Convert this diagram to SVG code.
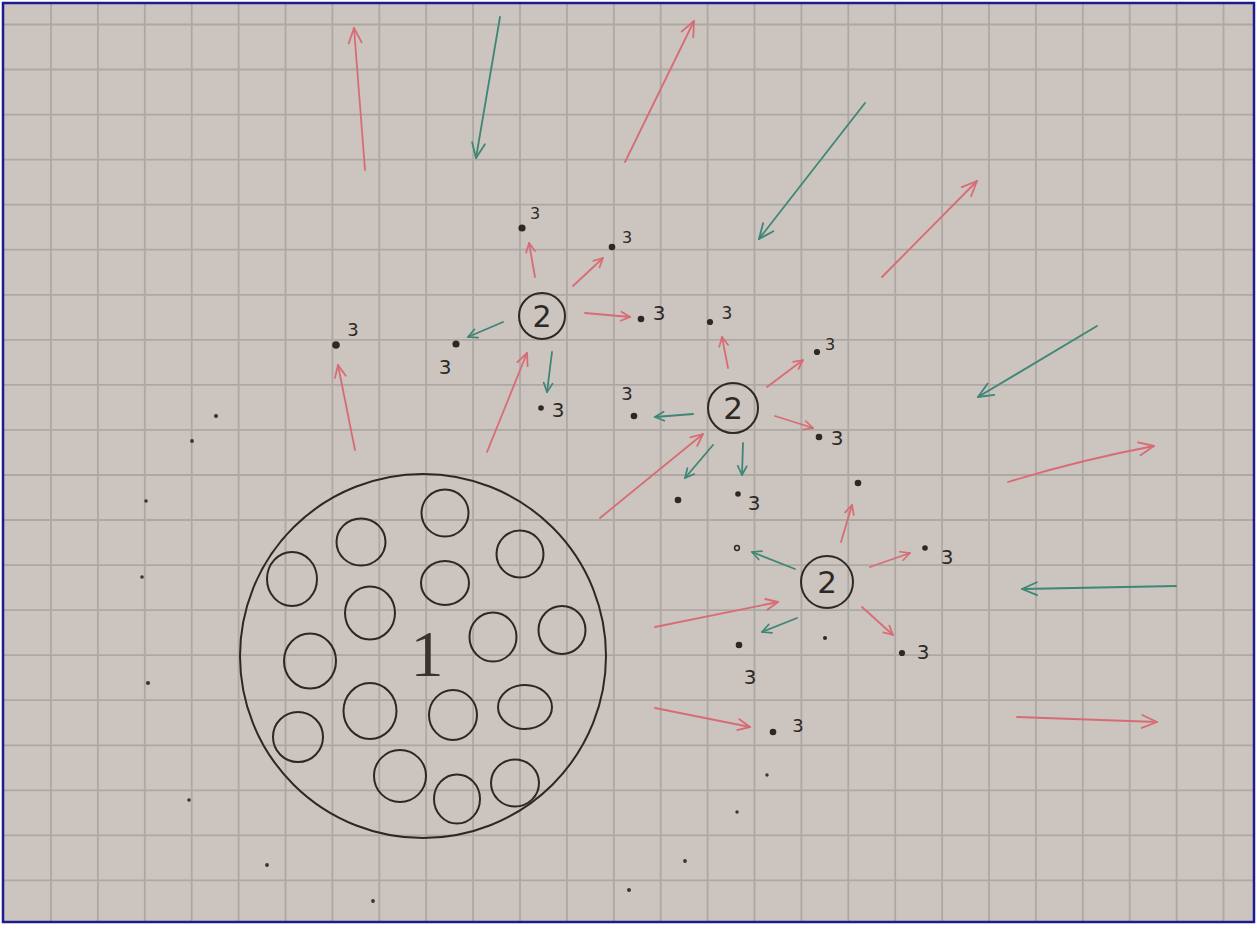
<svg xmlns="http://www.w3.org/2000/svg" width="1257" height="930" viewBox="0 0 1257 930">
<style>
.ink{fill:none;stroke:#2d2825;stroke-width:2}
.dot{fill:#2d2825}
.lbl{font-family:"DejaVu Sans","Liberation Sans",sans-serif;fill:#2d2825}
.red{fill:none;stroke:#d86c75;stroke-width:1.8;stroke-linecap:round}
.green{fill:none;stroke:#3e8676;stroke-width:1.8;stroke-linecap:round}
.grid line{stroke:#aea8a4;stroke-width:1.8}
</style>
<defs>
<marker id="r-lg" viewBox="-17 -9 19 18" refX="0" refY="0" markerWidth="19" markerHeight="18" orient="auto" markerUnits="userSpaceOnUse"><path d="M-15,-6.5 L0,0 L-15,6.5" fill="none" stroke="#d86c75" stroke-width="1.8" stroke-linecap="round" stroke-linejoin="round"/></marker>
<marker id="g-lg" viewBox="-17 -9 19 18" refX="0" refY="0" markerWidth="19" markerHeight="18" orient="auto" markerUnits="userSpaceOnUse"><path d="M-15,-6.5 L0,0 L-15,6.5" fill="none" stroke="#3e8676" stroke-width="1.8" stroke-linecap="round" stroke-linejoin="round"/></marker>
<marker id="r-md" viewBox="-14 -8 16 16" refX="0" refY="0" markerWidth="16" markerHeight="16" orient="auto" markerUnits="userSpaceOnUse"><path d="M-12,-5.5 L0,0 L-12,5.5" fill="none" stroke="#d86c75" stroke-width="1.8" stroke-linecap="round" stroke-linejoin="round"/></marker>
<marker id="r-sm" viewBox="-11 -6 13 12" refX="0" refY="0" markerWidth="13" markerHeight="12" orient="auto" markerUnits="userSpaceOnUse"><path d="M-9,-4.5 L0,0 L-9,4.5" fill="none" stroke="#d86c75" stroke-width="1.7" stroke-linecap="round" stroke-linejoin="round"/></marker>
<marker id="g-sm" viewBox="-11 -6 13 12" refX="0" refY="0" markerWidth="13" markerHeight="12" orient="auto" markerUnits="userSpaceOnUse"><path d="M-9,-4.5 L0,0 L-9,4.5" fill="none" stroke="#3e8676" stroke-width="1.7" stroke-linecap="round" stroke-linejoin="round"/></marker>
</defs>
<rect x="0" y="0" width="1257" height="930" fill="#ffffff"/>
<rect x="3" y="3" width="1251" height="919" fill="#cbc4bf"/>
<g class="grid">
<line x1="51" y1="3" x2="51" y2="922"/><line x1="97.9" y1="3" x2="97.9" y2="922"/><line x1="144.8" y1="3" x2="144.8" y2="922"/><line x1="191.7" y1="3" x2="191.7" y2="922"/><line x1="238.6" y1="3" x2="238.6" y2="922"/><line x1="285.5" y1="3" x2="285.5" y2="922"/><line x1="332.4" y1="3" x2="332.4" y2="922"/><line x1="379.3" y1="3" x2="379.3" y2="922"/><line x1="426.2" y1="3" x2="426.2" y2="922"/><line x1="473.1" y1="3" x2="473.1" y2="922"/><line x1="520" y1="3" x2="520" y2="922"/><line x1="566.9" y1="3" x2="566.9" y2="922"/><line x1="613.8" y1="3" x2="613.8" y2="922"/><line x1="660.7" y1="3" x2="660.7" y2="922"/><line x1="707.6" y1="3" x2="707.6" y2="922"/><line x1="754.5" y1="3" x2="754.5" y2="922"/><line x1="801.4" y1="3" x2="801.4" y2="922"/><line x1="848.3" y1="3" x2="848.3" y2="922"/><line x1="895.2" y1="3" x2="895.2" y2="922"/><line x1="942.1" y1="3" x2="942.1" y2="922"/><line x1="989" y1="3" x2="989" y2="922"/><line x1="1035.9" y1="3" x2="1035.9" y2="922"/><line x1="1082.8" y1="3" x2="1082.8" y2="922"/><line x1="1129.7" y1="3" x2="1129.7" y2="922"/><line x1="1176.6" y1="3" x2="1176.6" y2="922"/><line x1="1223.5" y1="3" x2="1223.5" y2="922"/>
<line x1="3" y1="24.5" x2="1254" y2="24.5"/><line x1="3" y1="69.5" x2="1254" y2="69.5"/><line x1="3" y1="114.6" x2="1254" y2="114.6"/><line x1="3" y1="159.6" x2="1254" y2="159.6"/><line x1="3" y1="204.7" x2="1254" y2="204.7"/><line x1="3" y1="249.7" x2="1254" y2="249.7"/><line x1="3" y1="294.8" x2="1254" y2="294.8"/><line x1="3" y1="339.8" x2="1254" y2="339.8"/><line x1="3" y1="384.9" x2="1254" y2="384.9"/><line x1="3" y1="429.9" x2="1254" y2="429.9"/><line x1="3" y1="475" x2="1254" y2="475"/><line x1="3" y1="520" x2="1254" y2="520"/><line x1="3" y1="565.1" x2="1254" y2="565.1"/><line x1="3" y1="610.1" x2="1254" y2="610.1"/><line x1="3" y1="655.2" x2="1254" y2="655.2"/><line x1="3" y1="700.2" x2="1254" y2="700.2"/><line x1="3" y1="745.3" x2="1254" y2="745.3"/><line x1="3" y1="790.3" x2="1254" y2="790.3"/><line x1="3" y1="835.4" x2="1254" y2="835.4"/><line x1="3" y1="880.4" x2="1254" y2="880.4"/>
</g>
<rect x="3" y="3" width="1251" height="919" fill="none" stroke="#1c1c8e" stroke-width="2.5"/>

<g id="node-1">
<ellipse class="ink" cx="423" cy="656" rx="183" ry="182"/>
<ellipse class="ink" cx="445" cy="513" rx="23.5" ry="23.5"/>
<ellipse class="ink" cx="361" cy="542" rx="24.5" ry="23.5"/>
<ellipse class="ink" cx="520" cy="554" rx="23.5" ry="23.5"/>
<ellipse class="ink" cx="292" cy="579" rx="25" ry="27"/>
<ellipse class="ink" cx="445" cy="583" rx="24" ry="22"/>
<ellipse class="ink" cx="370" cy="613" rx="25" ry="26.5"/>
<ellipse class="ink" cx="493" cy="637" rx="23.5" ry="24.5"/>
<ellipse class="ink" cx="562" cy="630" rx="23.5" ry="24"/>
<ellipse class="ink" cx="310" cy="661" rx="26" ry="27.5"/>
<ellipse class="ink" cx="370" cy="711" rx="26.5" ry="28"/>
<ellipse class="ink" cx="453" cy="715" rx="24" ry="25"/>
<ellipse class="ink" cx="525" cy="707" rx="27" ry="22"/>
<ellipse class="ink" cx="298" cy="737" rx="25" ry="25"/>
<ellipse class="ink" cx="400" cy="776" rx="26" ry="26"/>
<ellipse class="ink" cx="457" cy="799" rx="23" ry="24.5"/>
<ellipse class="ink" cx="515" cy="783" rx="24" ry="23.5"/>
<text x="427" y="676" font-size="66" text-anchor="middle" fill="#3a3431" style="font-family:'Liberation Serif',serif">1</text>
</g>

<g id="node-2a">
<circle class="ink" cx="542" cy="316" r="23"/>
<text class="lbl" x="542" y="327" font-size="30" text-anchor="middle">2</text>
</g>
<g id="node-2b">
<circle class="ink" cx="733" cy="408" r="25"/>
<text class="lbl" x="733" y="419" font-size="31" text-anchor="middle">2</text>
</g>
<g id="node-2c">
<circle class="ink" cx="827" cy="582" r="26"/>
<text class="lbl" x="827" y="593" font-size="31" text-anchor="middle">2</text>
</g>

<g id="points-3">
<g id="p3-a1"><circle class="dot" cx="522" cy="228" r="3.6"/><text class="lbl" x="535" y="219" font-size="16" text-anchor="middle">3</text></g>
<g id="p3-a2"><circle class="dot" cx="612" cy="247" r="3.3"/><text class="lbl" x="627" y="243" font-size="16" text-anchor="middle">3</text></g>
<g id="p3-a3"><circle class="dot" cx="641" cy="319" r="3.3"/><text class="lbl" x="659" y="320" font-size="20" text-anchor="middle">3</text></g>
<g id="p3-a4"><circle class="dot" cx="456" cy="344" r="3.6"/><text class="lbl" x="445" y="374" font-size="20" text-anchor="middle">3</text></g>
<g id="p3-a5"><circle class="dot" cx="541" cy="408" r="2.8"/><text class="lbl" x="558" y="417" font-size="20" text-anchor="middle">3</text></g>
<g id="p3-a6"><circle class="dot" cx="336" cy="345" r="3.8"/><text class="lbl" x="353" y="336" font-size="18" text-anchor="middle">3</text></g>
<g id="p3-b1"><circle class="dot" cx="710" cy="322" r="3.1"/><text class="lbl" x="727" y="319" font-size="17" text-anchor="middle">3</text></g>
<g id="p3-b2"><circle class="dot" cx="817" cy="352" r="3.1"/><text class="lbl" x="830" y="350" font-size="16" text-anchor="middle">3</text></g>
<g id="p3-b3"><circle class="dot" cx="819" cy="437" r="3.3"/><text class="lbl" x="837" y="445" font-size="20" text-anchor="middle">3</text></g>
<g id="p3-b4"><circle class="dot" cx="634" cy="416" r="3.3"/><text class="lbl" x="627" y="400" font-size="18" text-anchor="middle">3</text></g>
<g id="p3-b5"><circle class="dot" cx="678" cy="500" r="3.3"/></g>
<g id="p3-b6"><circle class="dot" cx="738" cy="494" r="2.8"/><text class="lbl" x="754" y="510" font-size="20" text-anchor="middle">3</text></g>
<g id="p3-c1"><circle class="dot" cx="858" cy="483" r="3.3"/></g>
<g id="p3-c2"><circle class="dot" cx="925" cy="548" r="2.8"/><text class="lbl" x="947" y="564" font-size="20" text-anchor="middle">3</text></g>
<g id="p3-c3"><circle class="dot" cx="902" cy="653" r="3.1"/><text class="lbl" x="923" y="659" font-size="20" text-anchor="middle">3</text></g>
<g id="p3-c4"><circle cx="737" cy="548" r="2.4" fill="none" stroke="#2d2825" stroke-width="1.5"/></g>
<g id="p3-c5"><circle class="dot" cx="739" cy="645" r="3.3"/><text class="lbl" x="750" y="684" font-size="20" text-anchor="middle">3</text></g>
<g id="p3-c6"><circle class="dot" cx="825" cy="638" r="2"/></g>
<g id="p3-c7"><circle class="dot" cx="773" cy="732" r="3.3"/><text class="lbl" x="798" y="732" font-size="18" text-anchor="middle">3</text></g>
</g>

<g id="pencil-dots" fill="#3a3431">
<circle cx="216" cy="416" r="2.1"/><circle cx="192" cy="441" r="1.9"/><circle cx="146" cy="501" r="1.8"/><circle cx="142" cy="577" r="1.8"/><circle cx="148" cy="683" r="2.1"/><circle cx="189" cy="800" r="1.8"/><circle cx="267" cy="865" r="1.9"/><circle cx="373" cy="901" r="1.9"/><circle cx="629" cy="890" r="2"/><circle cx="685" cy="861" r="1.9"/><circle cx="767" cy="775" r="1.7"/><circle cx="737" cy="812" r="1.7"/>
</g>

<g id="connectors">
<line class="red" x1="365" y1="170" x2="354" y2="28" marker-end="url(#r-lg)"/>
<line class="green" x1="500" y1="17" x2="476" y2="158" marker-end="url(#g-lg)"/>
<line class="red" x1="625" y1="162" x2="694" y2="21" marker-end="url(#r-lg)"/>
<line class="green" x1="865" y1="103" x2="759" y2="239" marker-end="url(#g-lg)"/>
<line class="red" x1="882" y1="277" x2="977" y2="181" marker-end="url(#r-lg)"/>
<line class="green" x1="1097" y1="326" x2="978" y2="397" marker-end="url(#g-lg)"/>
<path class="red" d="M1008,482 Q1080,460 1154,446" marker-end="url(#r-lg)"/>
<line class="green" x1="1176" y1="586" x2="1022" y2="589" marker-end="url(#g-lg)"/>
<line class="red" x1="1017" y1="717" x2="1157" y2="722" marker-end="url(#r-lg)"/>

<line class="red" x1="355" y1="450" x2="338" y2="365" marker-end="url(#r-md)"/>
<line class="red" x1="487" y1="452" x2="527" y2="353" marker-end="url(#r-md)"/>
<line class="red" x1="600" y1="518" x2="703" y2="434" marker-end="url(#r-md)"/>
<line class="red" x1="655" y1="627" x2="778" y2="602" marker-end="url(#r-md)"/>
<line class="red" x1="655" y1="708" x2="750" y2="727" marker-end="url(#r-md)"/>

<line class="red" x1="535" y1="277" x2="529" y2="243" marker-end="url(#r-sm)"/>
<line class="red" x1="573" y1="286" x2="603" y2="258" marker-end="url(#r-sm)"/>
<line class="red" x1="585" y1="313" x2="630" y2="317" marker-end="url(#r-sm)"/>
<line class="green" x1="503" y1="322" x2="468" y2="337" marker-end="url(#g-sm)"/>
<line class="green" x1="552" y1="352" x2="547" y2="392" marker-end="url(#g-sm)"/>

<line class="red" x1="728" y1="368" x2="722" y2="337" marker-end="url(#r-sm)"/>
<line class="red" x1="767" y1="387" x2="803" y2="360" marker-end="url(#r-sm)"/>
<line class="red" x1="775" y1="416" x2="813" y2="428" marker-end="url(#r-sm)"/>
<line class="green" x1="693" y1="414" x2="655" y2="417" marker-end="url(#g-sm)"/>
<line class="green" x1="713" y1="445" x2="685" y2="478" marker-end="url(#g-sm)"/>
<line class="green" x1="743" y1="443" x2="742" y2="475" marker-end="url(#g-sm)"/>

<line class="red" x1="841" y1="542" x2="852" y2="505" marker-end="url(#r-sm)"/>
<line class="red" x1="870" y1="567" x2="910" y2="553" marker-end="url(#r-sm)"/>
<line class="red" x1="862" y1="607" x2="893" y2="635" marker-end="url(#r-sm)"/>
<line class="green" x1="795" y1="569" x2="752" y2="552" marker-end="url(#g-sm)"/>
<line class="green" x1="797" y1="618" x2="762" y2="632" marker-end="url(#g-sm)"/>
</g>
</svg>
